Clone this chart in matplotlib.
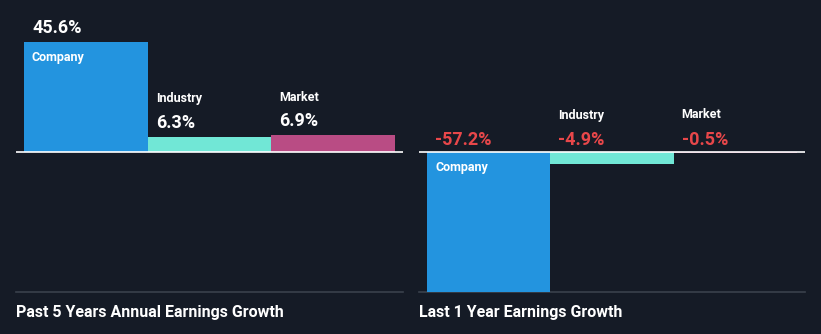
import matplotlib
matplotlib.use("Agg")
import matplotlib.pyplot as plt

# data
categories = ["Company", "Industry", "Market"]
past5_values = [45.6, 6.3, 6.9]
last1_values = [-57.2, -4.9, -0.5]
panel_titles = ["Past 5 Years Annual Earnings Growth", "Last 1 Year Earnings Growth"]

BG = "#151b26"
COLORS = ["#2394df", "#71e7d6", "#b94c84"]
RED = "#e8474a"
W, H = 821, 334

plt.rcParams['font.family'] = ['Roboto', 'DejaVu Sans']

fig = plt.figure(figsize=(W / 100, H / 100), dpi=100)
fig.patch.set_facecolor(BG)


def make_axes(x0, x1, y_top, y_bot):
    # pixel box -> figure fraction
    return fig.add_axes([x0 / W, 1 - y_bot / H, (x1 - x0) / W, (y_bot - y_top) / H])


def draw_panel(ax, values, title, bar_left_px, bar_w_px, ax_x0, ax_x1, scale_px):
    base_px = 152
    top_px, bot_px = 20, 292
    ax.set_facecolor(BG)
    ax.bar(range(len(values)), values, width=1.0, align='edge', color=COLORS, linewidth=0)
    ax.set_xlim((ax_x0 - bar_left_px) / bar_w_px, (ax_x1 - bar_left_px) / bar_w_px)
    ax.set_ylim(-(bot_px - base_px) / scale_px, (base_px - top_px) / scale_px)
    ax.axhline(0, color="white", linewidth=1.2, zorder=3)
    for s in ["top", "left", "right"]:
        ax.spines[s].set_visible(False)
    ax.spines["bottom"].set_color("#3a414c")
    ax.spines["bottom"].set_linewidth(1.2)
    ax.spines["bottom"].set_zorder(0)
    ax.set_xticks([])
    ax.set_yticks([])

    vmax = max(abs(v) for v in values)
    for i, (name, v) in enumerate(zip(categories, values)):
        col = "white" if v >= 0 else RED
        top = max(v, 0)
        ax.annotate(f"{v:.1f}%", xy=(i, top), xytext=(8, 14 if v > 0 else 12),
                    textcoords='offset pixels', ha='left', va='center',
                    color=col, fontsize=13, fontweight='bold')
        if abs(v) > 0.3 * vmax:
            dy = -15 if v > 0 else -16
            ax.annotate(name, xy=(i, v if v > 0 else 0), xytext=(8, dy),
                        textcoords='offset pixels', ha='left', va='center',
                        color="white", fontsize=9, fontweight='bold')
        else:
            ax.annotate(name, xy=(i, top), xytext=(8, 38 if v > 0 else 37),
                        textcoords='offset pixels', ha='left', va='center',
                        color="white", fontsize=9, fontweight='bold')

    fig.text(ax_x0 / W, 1 - 312 / H, title, ha='left', va='center',
             color="white", fontsize=11.5, fontweight='bold')


ax1 = make_axes(16, 403, 20, 292)
draw_panel(ax1, past5_values, panel_titles[0], 24, 123.7, 16, 403, 110 / 45.6)
ax2 = make_axes(419, 805, 20, 292)
draw_panel(ax2, last1_values, panel_titles[1], 427, 123.3, 419, 805, 140 / 57.2)

fig.savefig("out.png", dpi=100, facecolor=BG)
